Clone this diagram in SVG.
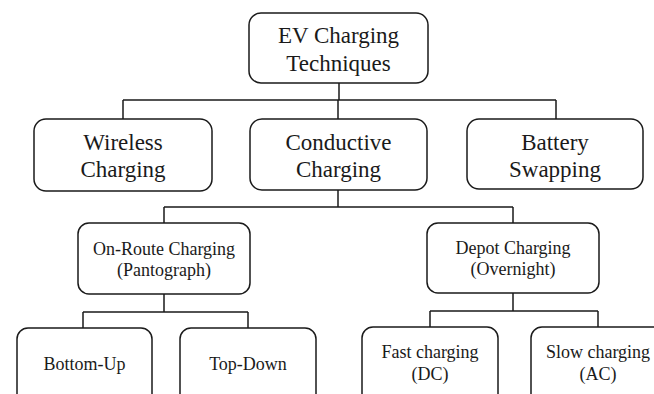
<svg xmlns="http://www.w3.org/2000/svg" width="654" height="394" viewBox="0 0 654 394">
<style>
.box{fill:#fff;stroke:#1a1a1a;stroke-width:1.5}
.con{fill:none;stroke:#1a1a1a;stroke-width:1.5}
text{font-family:'Liberation Serif','Times New Roman',Times,serif;fill:#1a1a1a;text-anchor:middle}
.t1{font-size:23px}
.t2{font-size:18px}
</style>
<rect width="654" height="394" fill="#fff"/>
<g id="connectors">
<path class="con" d="M339 83V100M123 100H556M123 100V119M338 100V119M556 100V119"/>
<path class="con" d="M338 190V207M164 207H513M513 207V223M164 207V223"/>
<path class="con" d="M164 294V312M83 312H248M83 312V328M248 312V328"/>
<path class="con" d="M513 293V311M430 311H598M430 311V327M598 311V327"/>
</g>
<g id="root">
<rect class="box" x="249" y="13" width="179" height="70" rx="12"/>
<text class="t1" x="338.5" y="43">EV Charging</text>
<text class="t1" x="338.5" y="71">Techniques</text>
</g>
<g id="wireless">
<rect class="box" x="34" y="119" width="178" height="72" rx="12"/>
<text class="t1" x="123" y="150">Wireless</text>
<text class="t1" x="123" y="177">Charging</text>
</g>
<g id="conductive">
<rect class="box" x="250" y="119" width="177" height="71" rx="12"/>
<text class="t1" x="338.5" y="150">Conductive</text>
<text class="t1" x="338.5" y="177">Charging</text>
</g>
<g id="battery">
<rect class="box" x="467" y="119" width="176" height="70" rx="12"/>
<text class="t1" x="555" y="150">Battery</text>
<text class="t1" x="555" y="177">Swapping</text>
</g>
<g id="onroute">
<rect class="box" x="78" y="223" width="172" height="71" rx="11"/>
<text class="t2" x="164" y="255">On-Route Charging</text>
<text class="t2" x="164" y="276">(Pantograph)</text>
</g>
<g id="depot">
<rect class="box" x="427" y="223" width="172" height="70" rx="11"/>
<text class="t2" x="513" y="254">Depot Charging</text>
<text class="t2" x="513" y="275">(Overnight)</text>
</g>
<g id="bottomup">
<rect class="box" x="17" y="328" width="135" height="80" rx="11"/>
<text class="t2" x="84.5" y="370">Bottom-Up</text>
</g>
<g id="topdown">
<rect class="box" x="180" y="328" width="136" height="80" rx="11"/>
<text class="t2" x="248" y="370">Top-Down</text>
</g>
<g id="fast">
<rect class="box" x="362" y="327" width="136" height="80" rx="11"/>
<text class="t2" x="430" y="358">Fast charging</text>
<text class="t2" x="430" y="380">(DC)</text>
</g>
<g id="slow">
<rect class="box" x="531" y="327" width="136" height="80" rx="11"/>
<text class="t2" x="598" y="358">Slow charging</text>
<text class="t2" x="598" y="380">(AC)</text>
</g>
</svg>
